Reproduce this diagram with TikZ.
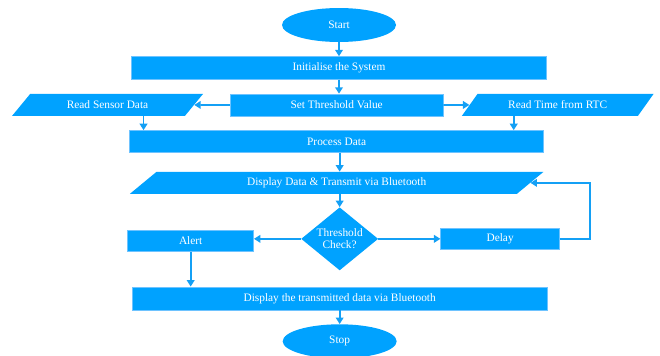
\documentclass[tikz,border=0pt]{standalone}
\usepackage{fontspec}
\setmainfont{Liberation Serif}
\usepackage{tikz}
\usetikzlibrary{positioning, shapes.geometric, arrows.meta}
\definecolor{boxblue}{RGB}{0,162,255}
\definecolor{edgeblue}{RGB}{110,195,255}
\definecolor{lineblue}{RGB}{20,160,245}

\begin{document}
\begin{tikzpicture}[
        Terminal/.style = {ellipse, fill = boxblue, text = white, inner sep = 0, minimum width = 3.42cm, minimum height = 1.02cm, font = \fontsize{9.7}{10.5}\selectfont},
        %
        Action/.style = {rectangle, draw = edgeblue, line width = 0.4pt, fill = boxblue, text = white, inner sep = 0, minimum height = 0.66cm, font = \fontsize{9.7}{10.5}\selectfont},
        %
        InOut/.style = {trapezium, trapezium left angle = 40, trapezium right angle = 140, trapezium stretches = true, fill = boxblue, text = white, inner sep = 0, minimum height = 0.66cm, font = \fontsize{9.7}{10.5}\selectfont},
        %
        Check/.style = {diamond, aspect = 1.22, fill = boxblue, text = white, inner sep = 0, minimum width = 2.31cm, minimum height = 1.89cm, align = center, font = \fontsize{9.7}{10.5}\selectfont},
        %
        Flow/.style = {-{Triangle[width = 6.5pt, length = 5.5pt]}, line width = 1.5pt, draw = lineblue},
    ]
        \useasboundingbox (0,0) rectangle (19.8,-10.68);

        % Top
        \node[Terminal] (Start) at (10.17,-0.75) {Start};
        \node[Action, minimum width = 12.45cm, minimum height = 0.69cm] (Init) [below = 0.42cm of Start] {Initialise the System};
        \node[Action, minimum width = 6.39cm] (SetThr) [below = 0.42cm of Init, xshift = -0.07cm] {Set Threshold Value};

        % Inputs
        \node[InOut, minimum width = 5.76cm] (ReadSensor) [left = 1.07cm of SetThr] {Read Sensor Data};
        \node[InOut, minimum width = 5.76cm] (ReadTime) [right = 0.78cm of SetThr] {Read Time from RTC};

        % Middle
        \node[Action, minimum width = 12.42cm] (Process) [below = 0.42cm of SetThr] {Process Data};
        \node[InOut, minimum width = 12.42cm, trapezium left angle = 38, trapezium right angle = 142] (Display) [below = 0.57cm of Process] {Display Data \& Transmit via Bluetooth};

        % Decision
        \node[Check] (Thr) [below = 0.39cm of Display, xshift = 0.09cm] {Threshold\\Check?};
        \node[Action, minimum width = 3.78cm, minimum height = 0.63cm] (Alert) [left = 1.41cm of Thr, yshift = -0.06cm] {Alert};
        \node[Action, minimum width = 3.57cm, minimum height = 0.63cm] (Delay) [right = 1.86cm of Thr] {Delay};

        % Bottom
        \node[Action, minimum width = 12.45cm, minimum height = 0.69cm] (DispTrans) [below = 0.48cm of Thr] {Display the transmitted data via Bluetooth};
        \node[Terminal] (Stop) [below = 0.42cm of DispTrans] {Stop};

        % Arrows top
        \draw[Flow] (Start) to (Init);
        \draw[Flow] (Start.south |- Init.south) to (Start.south |- SetThr.north);
        \draw[Flow] (SetThr.west) to (ReadSensor);
        \draw[Flow] (SetThr.east) to (ReadTime);

        % Arrows inputs
        \draw[Flow] ([xshift = 1.08cm]ReadSensor.south) to ([xshift = 1.08cm]ReadSensor.south |- Process.north);
        \draw[Flow] ([xshift = -1.32cm]ReadTime.south) to ([xshift = -1.32cm]ReadTime.south |- Process.north);

        % Arrows middle
        \draw[Flow] (Thr.north |- Process.south) to (Thr.north |- Display.north);
        \draw[Flow] (Thr.north |- Display.south) to (Thr.north);

        % Decision
        \draw[Flow] (Thr) to (Thr -| Alert.east);
        \draw[Flow] (Thr) to (Delay);
        \draw[Flow] (Delay.east) -- ++(0.9,0) |- (Display.east);
        \draw[Flow] (Alert.south) to (Alert.south |- DispTrans.north);

        % Stop
        \draw[Flow] (DispTrans) to (Stop);

    \end{tikzpicture}
\end{document}
